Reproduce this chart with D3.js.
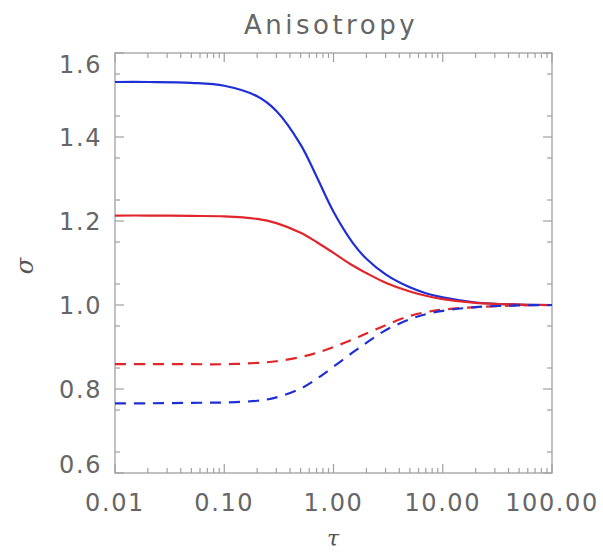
<!DOCTYPE html>
<html><head><meta charset="utf-8">
<script src="https://cdn.jsdelivr.net/npm/d3@7"></script>
<style>
html,body{margin:0;padding:0;background:#fff;}
svg text{font-family:"DejaVu Sans",sans-serif;}
</style></head>
<body><svg id="c" width="603" height="555"></svg>
<script>
const tau = [0.01,0.02,0.05,0.1,0.2,0.3,0.5,0.7,1,1.5,2,3,5,7,10,20,50,100];
const blueSolid  = [1.531,1.531,1.529,1.522,1.497,1.462,1.382,1.306,1.222,1.148,1.110,1.073,1.042,1.028,1.018,1.006,1.001,1.000];
const redSolid   = [1.213,1.213,1.212,1.211,1.205,1.195,1.172,1.150,1.124,1.094,1.076,1.053,1.032,1.022,1.014,1.005,1.001,1.000];
const redDashed  = [0.859,0.859,0.859,0.859,0.862,0.866,0.876,0.886,0.900,0.918,0.932,0.952,0.974,0.983,0.989,0.995,0.999,1.000];
const blueDashed = [0.766,0.766,0.767,0.768,0.772,0.780,0.801,0.824,0.853,0.887,0.910,0.940,0.966,0.978,0.986,0.995,0.999,1.000];
const xTicks = [0.01,0.1,1,10,100];
const xTickLabels = ["0.01","0.10","1.00","10.00","100.00"];
const yTicks = [0.6,0.8,1.0,1.2,1.4,1.6];
const yTickLabels = ["0.6","0.8","1.0","1.2","1.4","1.6"];

const L=115,R=552,T=53,B=473;
const svg=d3.select("#c");
const x=d3.scaleLog().domain([0.01,100]).range([L,R]);
const y=d3.scaleLinear().domain([0.6,1.6]).range([B,T]);
const axisCol="#a0a0a0";

const xMinor=[];
for(let e=-2;e<2;e++){for(let m=2;m<=9;m++){xMinor.push(m*Math.pow(10,e));}}
const yMinor=d3.range(0.65,1.6,0.1);

const g=svg.append("g");
g.append("rect").attr("x",L).attr("y",T).attr("width",R-L).attr("height",B-T)
 .attr("fill","none").attr("stroke",axisCol).attr("stroke-width",1.3);

function tickLines(vals,len,isX){
  vals.forEach(v=>{
    if(isX){
      const px=x(v);
      g.append("line").attr("x1",px).attr("x2",px).attr("y1",B).attr("y2",B-len).attr("stroke",axisCol).attr("stroke-width",1.2);
      g.append("line").attr("x1",px).attr("x2",px).attr("y1",T).attr("y2",T+len).attr("stroke",axisCol).attr("stroke-width",1.2);
    } else {
      const py=y(v);
      g.append("line").attr("x1",L).attr("x2",L+len).attr("y1",py).attr("y2",py).attr("stroke",axisCol).attr("stroke-width",1.2);
      g.append("line").attr("x1",R).attr("x2",R-len).attr("y1",py).attr("y2",py).attr("stroke",axisCol).attr("stroke-width",1.2);
    }
  });
}
tickLines(xTicks,9,true);
tickLines(xMinor,5,true);
tickLines(yTicks,9,false);
tickLines(yMinor,5,false);

const labStyle=t=>t.attr("fill","#666").attr("font-size",24).attr("letter-spacing","1.6px");
xTicks.forEach((v,i)=>{
  labStyle(svg.append("text")).attr("x",x(v)).attr("y",B+38).attr("text-anchor","middle").text(xTickLabels[i]);
});
yTicks.forEach((v,i)=>{
  let dy=9;
  if(i===0) dy=0; if(i===yTicks.length-1) dy=20;
  labStyle(svg.append("text")).attr("x",102).attr("y",y(v)+dy).attr("text-anchor","end").text(yTickLabels[i]);
});

svg.append("text").attr("x",331).attr("y",34).attr("text-anchor","middle").attr("fill","#666")
  .attr("font-size",26).attr("letter-spacing","3.5px").text("Anisotropy");
svg.append("text").attr("x",333).attr("y",546).attr("text-anchor","middle").attr("fill","#555")
  .attr("font-size",22).attr("font-style","italic").style("font-family","'DejaVu Serif',serif").text("τ");
svg.append("text").attr("transform","translate(33,266) rotate(-90)").attr("text-anchor","middle").attr("fill","#555")
  .attr("font-size",24).attr("font-style","italic").style("font-family","'DejaVu Serif',serif").text("σ");

const line=d3.line().x(d=>x(d[0])).y(d=>y(d[1])).curve(d3.curveCatmullRom.alpha(0.5));
const series=[
  {v:blueSolid,c:"#1f2fd6",dash:null},
  {v:redSolid,c:"#e0262a",dash:null},
  {v:redDashed,c:"#e0262a",dash:"11,8"},
  {v:blueDashed,c:"#1f2fd6",dash:"11,8"}
];
series.forEach(s=>{
  svg.append("path").datum(tau.map((t,i)=>[t,s.v[i]])).attr("d",line)
    .attr("fill","none").attr("stroke",s.c).attr("stroke-width",2.2)
    .attr("stroke-dasharray",s.dash);
});
</script></body></html>
